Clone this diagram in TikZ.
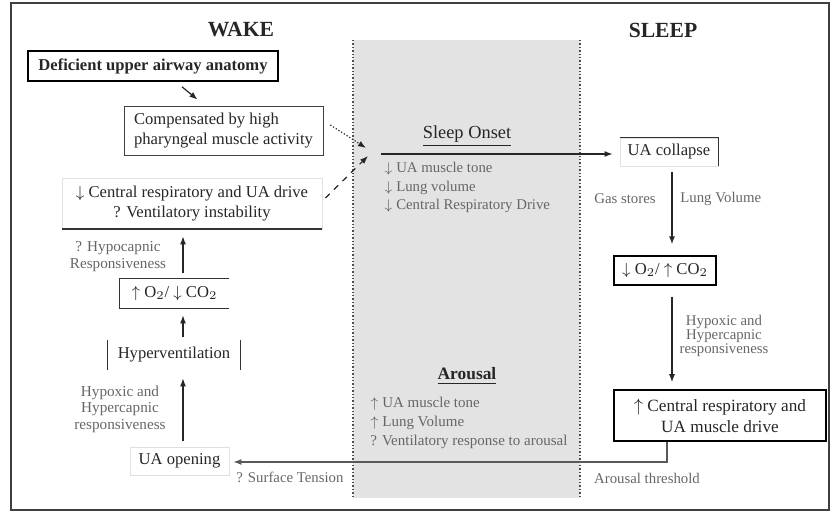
\documentclass[tikz,border=0pt]{standalone}
\usepackage{fontspec}
\setmainfont{Liberation Serif}
\usetikzlibrary{arrows.meta}

\begin{document}
\begin{tikzpicture}[x=0.5pt,y=-0.5pt,
    every node/.style={text=black!85},
    box/.style={inner sep=0pt, align=center, font=\fontsize{8.3}{10}\selectfont},
    lbl/.style={inner sep=0pt, align=center, text=black!60, font=\fontsize{7.4}{8.6}\selectfont},
    flow/.style={-{Latex[length=4pt,width=3pt]}, black!85, line width=.6pt}]
    \useasboundingbox (0,0) rectangle (832,512);
    % frame and sleep onset band
    \draw[black!75, line width=1pt] (11,3) rectangle (829,510);
    \fill[gray!22] (353,40) rectangle (580,498);
    \draw[densely dotted, black!70, line width=.7pt] (353,40) -- (353,498);
    \draw[densely dotted, black!70, line width=.7pt] (580,40) -- (580,498);
    \node[font=\bfseries\fontsize{10.8}{12}\selectfont] (wake) at (241,30) {WAKE};
    \node[font=\bfseries\fontsize{10.8}{12}\selectfont] (sleep) at (663,30) {SLEEP};
    % wake side
    \node[box, draw, line width=.8pt, font=\bfseries\fontsize{8.3}{10}\selectfont,
      minimum width=125pt, minimum height=15pt] (anatomy) at (153,66) {Deficient upper airway anatomy};
    \node[box, draw, black!75, text=black!85, align=left, inner xsep=4.5pt,
      minimum width=99.5pt, minimum height=24.5pt] (compens) at (223.5,130.5) {Compensated by high\\pharyngeal muscle activity};
    \node[box, draw=black!12, minimum width=130pt, minimum height=25.5pt] (drive) at (192,203.5)
      {$\downarrow$ Central respiratory and UA drive\\? Ventilatory instability};
    \draw[black!80, line width=.9pt] (drive.south west) -- (drive.south east);
    \node[box, minimum width=54.5pt, minimum height=14.5pt] (o2up) at (174.5,293.5)
      {$\uparrow$ O$_2$/ $\downarrow$ CO$_2$};
    \draw[black!80, line width=.7pt] (o2up.north east) -- (o2up.north west) -- (o2up.south west) -- (o2up.south east);
    \node[box, minimum width=66pt, minimum height=15pt] (hyper) at (174,355) {Hyperventilation};
    \draw[black!80, line width=.8pt] (hyper.north west) -- (hyper.south west);
    \draw[black!80, line width=.8pt] (hyper.north east) -- (hyper.south east);
    \node[box, draw=black!12, minimum width=49.5pt, minimum height=14pt] (uaopen) at (179.5,461) {UA opening};
    % sleep onset and arousal
    \node[font=\fontsize{9.2}{11}\selectfont] (onset) at (467,136) {\underline{Sleep Onset}};
    \coordinate (onsetline) at (381,154);
    \node[lbl, align=left, anchor=north west, font=\fontsize{7.4}{9.3}\selectfont] (onsetlist) at (384,162)
      {$\downarrow$ UA muscle tone\\$\downarrow$ Lung volume\\$\downarrow$ Central Respiratory Drive};
    \node[font=\bfseries\fontsize{8.7}{10}\selectfont] (arousal) at (467,376) {\underline{Arousal}};
    \node[lbl, align=left, anchor=north west, font=\fontsize{7.5}{9.5}\selectfont] (arousallist) at (370,397)
      {$\uparrow$ UA muscle tone\\$\uparrow$ Lung Volume\\? Ventilatory response to arousal};
    % sleep side
    \node[box, draw=black!12, minimum width=49pt, minimum height=14pt] (uacol) at (669,152) {UA collapse};
    \draw[black!80, line width=.7pt] (uacol.north west) -- (uacol.north east) -- (uacol.south east);
    \node[box, draw, line width=.7pt, minimum width=51pt, minimum height=14.5pt] (o2dn) at (665,270.5)
      {$\downarrow$ O$_2$/ $\uparrow$ CO$_2$};
    \node[box, draw, line width=.8pt, font=\fontsize{8.6}{10.5}\selectfont,
      minimum width=106pt, minimum height=25.5pt] (central) at (720,415.5)
      {$\uparrow$ Central respiratory and\\UA muscle drive};
    % connectors
    \draw[flow] ([xshift=14.5pt,yshift=-2.5pt]anatomy.south) -- ([xshift=-13pt,yshift=3pt]compens.north);
    \draw[flow, densely dotted] ([xshift=3.5pt,yshift=2.75pt]compens.east) -- ([xshift=-7.5pt,yshift=3pt]onsetline);
    \draw[flow, dashed] ([xshift=1.5pt,yshift=2.75pt]drive.east) -- ([xshift=-6.5pt,yshift=-1pt]onsetline);
    \draw[flow] (onsetline) -- ([xshift=-3.5pt,yshift=-1pt]uacol.west);
    \draw[flow] ([xshift=1.5pt,yshift=-3pt]uacol.south) -- ([xshift=3.5pt,yshift=5.5pt]o2dn.north);
    \draw[flow] ([xshift=3.5pt,yshift=-5.5pt]o2dn.south) -- ([xshift=3.5pt,yshift=3.5pt]o2dn.south |- central.north);
    \draw[flow, black!65] ([xshift=-26.5pt]central.south) |- ([xshift=2pt,yshift=-0.5pt]uaopen.east);
    \draw[flow] ([xshift=1.75pt,yshift=3pt]uaopen.north) -- ([xshift=1.75pt,yshift=-4pt]uaopen.north |- hyper.south);
    \draw[flow] ([xshift=4.5pt,yshift=1.5pt]hyper.north) -- ([xshift=4.5pt,yshift=-3.5pt]hyper.north |- o2up.south);
    \draw[flow] ([xshift=4.25pt,yshift=3pt]o2up.north) -- ([xshift=4.25pt,yshift=-3.5pt]o2up.north |- drive.south);
    % connector labels
    \node[lbl, font=\fontsize{7.6}{8.5}\selectfont] (hypocap) at (118,257) {? Hypocapnic\\Responsiveness};
    \node[lbl, font=\fontsize{7.6}{8.3}\selectfont] (resp1) at (120,409) {Hypoxic and\\Hypercapnic\\responsiveness};
    \node[lbl, anchor=east] (gas) at (656,199) {Gas stores};
    \node[lbl, anchor=west] (lungvol) at (680,199) {Lung Volume};
    \node[lbl, font=\fontsize{7.4}{7}\selectfont] (resp2) at (724,336) {Hypoxic and\\Hypercapnic\\responsiveness};
    \node[lbl] (threshold) at (647,478) {Arousal threshold};
    \node[lbl] (surface) at (290,477) {? Surface Tension};
\end{tikzpicture}
\end{document}
